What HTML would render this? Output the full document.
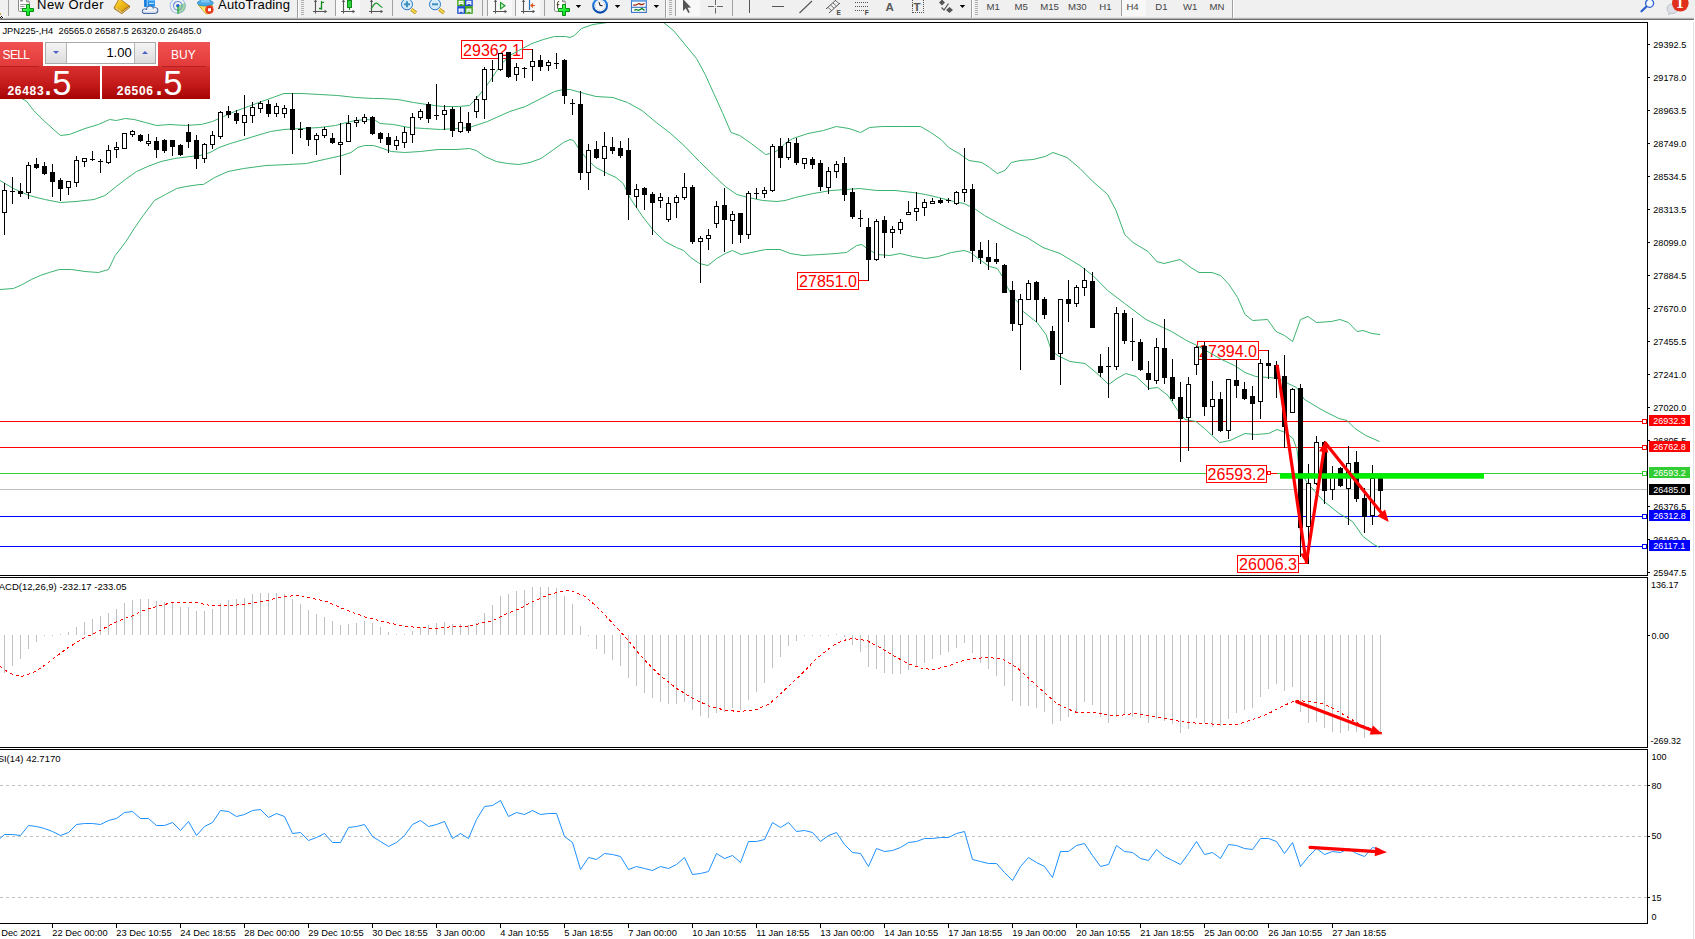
<!DOCTYPE html>
<html><head><meta charset="utf-8"><title>JPN225 H4</title>
<style>
html,body{margin:0;padding:0}
body{width:1695px;height:939px;overflow:hidden;background:#fff;position:relative;font-family:"Liberation Sans",sans-serif}
</style></head><body>
<svg width="1695" height="939" viewBox="0 0 1695 939" style="position:absolute;left:0;top:0">
<g shape-rendering="crispEdges">
<rect x="0" y="421" width="1647" height="1" fill="#f00"/>
<rect x="0" y="447" width="1647" height="1" fill="#f00"/>
<rect x="0" y="473" width="1647" height="1" fill="#32cd32"/>
<rect x="0" y="489" width="1647" height="1" fill="#c0c0c0"/>
<rect x="0" y="516" width="1647" height="1" fill="#00f"/>
<rect x="0" y="546" width="1647" height="1" fill="#00f"/>
</g>
<rect x="461.5" y="40.5" width="61" height="18" fill="#fff" stroke="#f00" stroke-width="1" shape-rendering="crispEdges"/>
<text x="492.0" y="55.6" font-family="Liberation Sans, sans-serif" font-size="16" fill="#f00" text-anchor="middle">29362.1</text>
<path d="M522.5 49.5H532.5" stroke="#f00" fill="none" shape-rendering="crispEdges"/>
<rect x="797.5" y="272.5" width="61" height="17" fill="#fff" stroke="#f00" stroke-width="1" shape-rendering="crispEdges"/>
<text x="828.0" y="286.6" font-family="Liberation Sans, sans-serif" font-size="16" fill="#f00" text-anchor="middle">27851.0</text>
<path d="M858.5 280.5H868.5" stroke="#f00" fill="none" shape-rendering="crispEdges"/>
<rect x="1197.5" y="341.5" width="61" height="18" fill="#fff" stroke="#f00" stroke-width="1" shape-rendering="crispEdges"/>
<text x="1228.0" y="356.6" font-family="Liberation Sans, sans-serif" font-size="16" fill="#f00" text-anchor="middle">27394.0</text>
<path d="M1258.5 350.5H1268.5" stroke="#f00" fill="none" shape-rendering="crispEdges"/>
<rect x="1206.5" y="465.5" width="60" height="17" fill="#fff" stroke="#f00" stroke-width="1" shape-rendering="crispEdges"/>
<text x="1236.5" y="479.6" font-family="Liberation Sans, sans-serif" font-size="16" fill="#f00" text-anchor="middle">26593.2</text>
<rect x="1267.5" y="471.5" width="3" height="3" fill="#fff" stroke="#f00" shape-rendering="crispEdges"/><rect x="1271" y="473" width="6" height="1" fill="#f00" shape-rendering="crispEdges"/>
<rect x="1237.5" y="555.5" width="61" height="17" fill="#fff" stroke="#f00" stroke-width="1" shape-rendering="crispEdges"/>
<text x="1268.0" y="569.6" font-family="Liberation Sans, sans-serif" font-size="16" fill="#f00" text-anchor="middle">26006.3</text>
<path d="M1298.5 563.5H1308.5" stroke="#f00" fill="none" shape-rendering="crispEdges"/>
<polyline points="0.0,80.5 12.0,92.5 26.8,101.5 33.6,110.5 44.7,121.5 60.4,135.5 69.4,134.5 85.0,128.5 98.4,124.5 109.6,119.5 116.3,120.5 125.3,118.5 134.2,119.5 145.4,122.5 156.6,125.5 170.0,124.5 185.7,125.5 200.0,124.5 201.2,124.5 212.4,121.5 223.6,116.5 234.7,111.5 248.2,106.5 261.6,101.5 272.8,97.5 284.0,93.5 301.9,93.5 319.8,94.5 337.6,95.5 355.5,97.5 373.4,98.5 380.0,98.5 397.9,99.5 413.6,102.5 427.0,104.5 442.6,106.5 458.3,106.5 469.5,105.5 476.2,98.5 483.0,90.5 489.6,81.5 496.3,71.5 502.0,63.5 509.8,55.5 518.7,50.5 532.0,43.5 543.3,39.5 554.5,36.5 565.7,36.5 570.0,37.5 574.3,35.5 581.5,28.5 593.0,24.5 600.0,23.5 607.4,22.5 611.0,20.5 660.0,20.5 663.5,22.5 673.5,30.5 685.0,44.5 696.5,58.5 705.2,74.5 713.8,93.5 722.4,112.5 731.0,132.5 739.7,135.5 751.2,143.5 765.6,154.5 774.2,152.5 780.0,148.5 785.0,143.5 792.8,138.5 808.0,133.5 823.5,130.5 836.2,126.5 849.0,128.5 860.5,132.5 869.5,127.5 882.2,126.5 902.7,126.5 920.6,126.5 930.8,132.5 941.0,139.5 948.7,147.5 958.9,153.5 969.0,160.5 981.9,162.5 989.6,167.5 997.3,173.5 1004.9,170.5 1011.3,162.5 1020.0,160.5 1033.0,159.5 1045.0,156.5 1053.0,152.5 1067.0,157.5 1080.0,168.5 1092.8,181.5 1107.7,194.5 1116.0,210.5 1124.7,234.5 1133.0,242.5 1148.0,251.5 1156.7,261.5 1164.0,263.5 1180.0,259.5 1190.8,267.5 1199.0,272.5 1212.0,272.5 1220.6,275.5 1229.0,284.5 1237.6,297.5 1245.0,314.5 1252.6,320.5 1267.5,319.5 1276.0,331.5 1284.5,335.5 1292.6,341.5 1300.5,319.5 1308.0,316.5 1316.5,322.5 1331.4,321.5 1340.0,319.5 1348.4,322.5 1357.0,331.5 1363.0,330.5 1372.0,333.5 1380.0,334.5" fill="none" stroke="#3cb371" stroke-width="1"/>
<polyline points="0.0,180.5 13.4,188.5 29.0,195.5 44.7,199.5 60.4,202.5 76.0,201.5 94.0,199.5 105.0,195.5 116.3,186.5 125.3,179.5 136.5,171.5 147.7,166.5 161.0,161.5 174.5,158.5 190.0,156.5 200.0,155.5 210.0,152.5 219.0,147.5 230.3,143.5 243.7,139.5 257.0,135.5 270.5,131.5 284.0,129.5 301.9,128.5 319.8,127.5 335.4,125.5 346.6,122.5 355.5,120.5 366.7,119.5 375.7,120.5 380.0,123.5 393.4,124.5 409.0,127.5 424.7,128.5 440.4,129.5 456.0,128.5 469.5,127.5 478.4,124.5 487.4,121.5 496.3,117.5 509.8,111.5 525.4,106.5 541.0,98.5 554.5,91.5 563.4,89.5 570.0,89.5 584.4,93.5 596.0,96.5 613.0,97.5 627.5,102.5 642.0,110.5 656.3,122.5 670.7,133.5 685.0,146.5 699.4,161.5 713.8,175.5 725.3,186.5 736.8,194.5 748.3,197.5 762.7,200.5 777.0,201.5 785.0,200.5 795.3,197.5 813.2,193.5 831.1,190.5 846.5,189.5 859.2,188.5 877.1,190.5 895.0,190.5 912.9,192.5 925.7,194.5 938.5,197.5 953.8,201.5 964.0,203.5 974.3,208.5 984.5,215.5 997.3,222.5 1010.0,229.5 1020.0,234.5 1027.0,237.5 1043.0,247.5 1060.0,253.5 1080.0,265.5 1092.8,275.5 1107.7,290.5 1124.7,303.5 1146.0,319.5 1171.6,331.5 1186.5,340.5 1197.0,345.5 1221.6,359.5 1234.4,365.5 1245.0,372.5 1255.7,376.5 1268.5,377.5 1279.0,378.5 1286.0,382.5 1296.5,387.5 1304.5,399.5 1323.0,410.5 1339.0,418.5 1347.0,420.5 1355.0,428.5 1365.8,435.5 1379.6,441.5" fill="none" stroke="#3cb371" stroke-width="1"/>
<polyline points="0.0,289.5 13.4,288.5 22.4,284.5 31.3,279.5 40.3,275.5 49.2,272.5 59.3,269.5 71.6,269.5 85.0,271.5 98.4,272.5 108.5,269.5 115.2,255.5 125.3,242.5 134.2,228.5 143.2,215.5 154.4,200.5 165.5,194.5 176.7,188.5 185.7,186.5 200.0,184.5 203.4,184.5 214.6,177.5 228.0,171.5 243.7,168.5 266.0,165.5 288.4,164.5 306.3,163.5 324.2,159.5 342.0,155.5 351.0,152.5 357.8,147.5 364.5,145.5 373.4,145.5 380.0,147.5 391.2,151.5 404.6,152.5 420.3,151.5 438.2,149.5 456.0,149.5 469.5,148.5 476.2,150.5 485.1,156.5 496.3,161.5 507.5,163.5 518.7,164.5 530.0,162.5 541.0,158.5 552.3,150.5 563.4,142.5 570.0,139.5 573.5,140.5 578.6,148.5 587.3,159.5 595.9,167.5 607.4,173.5 616.0,177.5 623.2,183.5 630.4,198.5 641.9,215.5 653.4,230.5 664.9,241.5 676.4,247.5 683.6,250.5 690.8,257.5 699.4,263.5 708.0,265.5 716.7,258.5 725.3,253.5 732.5,250.5 741.1,254.5 751.2,252.5 765.6,249.5 780.0,249.5 790.2,253.5 803.0,255.5 820.9,254.5 836.2,253.5 846.5,252.5 856.7,245.5 861.8,244.5 866.9,248.5 877.1,254.5 889.9,255.5 900.1,253.5 912.9,256.5 925.7,258.5 938.5,256.5 951.3,252.5 964.0,250.5 970.4,252.5 979.4,259.5 989.6,266.5 997.3,268.5 1002.4,276.5 1007.5,287.5 1012.6,296.5 1020.0,304.5 1022.0,310.5 1037.0,322.5 1046.0,334.5 1051.0,349.5 1057.5,355.5 1070.0,361.5 1085.0,363.5 1096.0,372.5 1108.7,384.5 1117.0,378.5 1125.7,373.5 1136.0,376.5 1149.0,388.5 1157.7,387.5 1168.0,395.5 1177.0,409.5 1185.0,419.5 1196.0,421.5 1204.5,428.5 1219.5,442.5 1230.0,440.5 1245.0,433.5 1255.7,434.5 1268.5,433.5 1277.0,429.5 1285.5,432.5 1293.0,438.5 1297.0,449.5 1299.0,468.5 1307.0,482.5 1315.0,491.5 1323.0,500.5 1339.0,513.5 1352.5,521.5 1363.0,536.5 1373.8,544.5 1379.6,547.5" fill="none" stroke="#3cb371" stroke-width="1"/>
<g shape-rendering="crispEdges">
<path d="M4 183h1v52h-1zM12 177h1v27h-1zM20 183h1v14h-1zM28 162h1v37h-1zM36 158h1v11h-1zM44 162h1v13h-1zM52 164h1v33h-1zM60 178h1v23h-1zM68 181h1v14h-1zM76 156h1v31h-1zM84 158h1v9h-1zM92 151h1v10h-1zM100 159h1v14h-1zM108 145h1v19h-1zM116 142h1v16h-1zM124 133h1v16h-1zM132 130h1v7h-1zM140 134h1v8h-1zM148 134h1v12h-1zM156 137h1v21h-1zM164 139h1v14h-1zM172 140h1v16h-1zM180 144h1v12h-1zM188 124h1v24h-1zM196 135h1v34h-1zM204 143h1v20h-1zM212 131h1v18h-1zM220 111h1v28h-1zM228 106h1v12h-1zM236 110h1v14h-1zM244 95h1v41h-1zM252 102h1v21h-1zM260 101h1v12h-1zM268 100h1v17h-1zM276 103h1v14h-1zM284 105h1v13h-1zM292 93h1v61h-1zM300 122h1v16h-1zM308 127h1v19h-1zM316 133h1v22h-1zM324 127h1v11h-1zM332 133h1v11h-1zM340 123h1v52h-1zM348 115h1v27h-1zM356 117h1v10h-1zM364 114h1v10h-1zM372 116h1v19h-1zM380 132h1v11h-1zM388 133h1v20h-1zM396 136h1v14h-1zM404 127h1v21h-1zM412 113h1v30h-1zM420 109h1v11h-1zM428 102h1v21h-1zM436 84h1v36h-1zM444 105h1v25h-1zM452 107h1v30h-1zM460 107h1v26h-1zM468 112h1v21h-1zM476 96h1v22h-1zM484 67h1v52h-1zM492 60h1v22h-1zM500 53h1v18h-1zM508 52h1v26h-1zM516 63h1v18h-1zM524 67h1v11h-1zM532 49h1v32h-1zM540 55h1v16h-1zM548 60h1v11h-1zM556 53h1v16h-1zM564 59h1v45h-1zM572 99h1v16h-1zM580 91h1v89h-1zM588 144h1v46h-1zM596 141h1v18h-1zM604 132h1v44h-1zM612 137h1v17h-1zM620 141h1v17h-1zM628 138h1v82h-1zM636 184h1v24h-1zM644 187h1v23h-1zM652 192h1v43h-1zM660 193h1v15h-1zM668 197h1v25h-1zM676 195h1v23h-1zM684 173h1v27h-1zM692 185h1v59h-1zM700 236h1v47h-1zM708 229h1v21h-1zM716 201h1v27h-1zM724 188h1v64h-1zM732 211h1v33h-1zM740 213h1v30h-1zM748 191h1v48h-1zM756 188h1v11h-1zM764 187h1v11h-1zM772 144h1v48h-1zM780 138h1v30h-1zM788 138h1v22h-1zM796 138h1v27h-1zM804 158h1v11h-1zM812 157h1v12h-1zM820 160h1v31h-1zM828 167h1v27h-1zM836 161h1v17h-1zM844 157h1v44h-1zM852 188h1v31h-1zM860 210h1v17h-1zM868 218h1v63h-1zM876 219h1v42h-1zM884 216h1v42h-1zM892 226h1v22h-1zM900 219h1v15h-1zM908 201h1v14h-1zM916 192h1v29h-1zM924 199h1v17h-1zM932 198h1v6h-1zM940 198h1v6h-1zM948 198h1v5h-1zM956 191h1v14h-1zM964 148h1v54h-1zM972 184h1v78h-1zM980 242h1v22h-1zM988 240h1v30h-1zM996 243h1v21h-1zM1004 264h1v29h-1zM1012 281h1v50h-1zM1020 294h1v76h-1zM1028 280h1v20h-1zM1036 281h1v41h-1zM1044 297h1v22h-1zM1052 326h1v34h-1zM1060 299h1v86h-1zM1068 280h1v42h-1zM1076 285h1v22h-1zM1084 268h1v28h-1zM1092 272h1v56h-1zM1100 354h1v23h-1zM1108 347h1v51h-1zM1116 307h1v63h-1zM1124 310h1v34h-1zM1132 318h1v43h-1zM1140 339h1v32h-1zM1148 361h1v29h-1zM1156 338h1v46h-1zM1164 319h1v65h-1zM1172 359h1v42h-1zM1180 382h1v80h-1zM1188 377h1v74h-1zM1196 346h1v29h-1zM1204 342h1v74h-1zM1212 381h1v54h-1zM1220 392h1v40h-1zM1228 379h1v60h-1zM1236 360h1v38h-1zM1244 382h1v18h-1zM1252 386h1v54h-1zM1260 359h1v60h-1zM1268 350h1v29h-1zM1276 361h1v37h-1zM1284 355h1v93h-1zM1292 388h1v25h-1zM1300 384h1v173h-1zM1308 464h1v100h-1zM1316 436h1v49h-1zM1324 441h1v63h-1zM1332 466h1v34h-1zM1340 467h1v20h-1zM1348 446h1v79h-1zM1356 451h1v51h-1zM1364 488h1v45h-1zM1372 465h1v60h-1zM1380 476h1v39h-1z" fill="#000"/>
<path d="M10 191h5v1h-5zM18 191h5v3h-5zM34 164h5v4h-5zM42 166h5v8h-5zM50 172h5v10h-5zM58 180h5v9h-5zM90 159h5v1h-5zM98 161h5v1h-5zM138 135h5v6h-5zM154 141h5v9h-5zM162 140h5v11h-5zM170 140h5v7h-5zM178 145h5v10h-5zM186 132h5v10h-5zM194 140h5v19h-5zM226 111h5v4h-5zM234 113h5v8h-5zM266 104h5v10h-5zM290 109h5v21h-5zM298 129h5v1h-5zM306 127h5v13h-5zM330 138h5v5h-5zM370 117h5v17h-5zM378 133h5v6h-5zM386 137h5v8h-5zM426 104h5v15h-5zM434 115h5v1h-5zM450 109h5v22h-5zM466 123h5v8h-5zM490 69h5v1h-5zM506 52h5v25h-5zM522 68h5v1h-5zM538 60h5v7h-5zM554 63h5v1h-5zM562 60h5v36h-5zM570 103h5v1h-5zM578 104h5v69h-5zM594 149h5v9h-5zM610 147h5v4h-5zM618 148h5v8h-5zM626 150h5v45h-5zM642 188h5v7h-5zM650 194h5v9h-5zM690 187h5v55h-5zM722 205h5v15h-5zM738 213h5v22h-5zM754 193h5v1h-5zM778 146h5v12h-5zM794 143h5v20h-5zM810 159h5v6h-5zM818 163h5v24h-5zM842 163h5v32h-5zM850 192h5v25h-5zM858 218h5v1h-5zM866 227h5v33h-5zM882 220h5v13h-5zM938 200h5v3h-5zM946 200h5v1h-5zM970 189h5v62h-5zM978 250h5v8h-5zM986 257h5v5h-5zM994 259h5v3h-5zM1002 265h5v28h-5zM1010 290h5v34h-5zM1034 282h5v18h-5zM1042 299h5v16h-5zM1050 331h5v29h-5zM1066 299h5v5h-5zM1090 281h5v47h-5zM1098 366h5v7h-5zM1106 366h5v1h-5zM1122 313h5v28h-5zM1130 341h5v1h-5zM1138 342h5v28h-5zM1146 373h5v7h-5zM1162 348h5v30h-5zM1170 377h5v22h-5zM1178 397h5v22h-5zM1202 346h5v61h-5zM1218 399h5v32h-5zM1234 380h5v6h-5zM1242 389h5v10h-5zM1250 396h5v8h-5zM1266 363h5v3h-5zM1274 365h5v14h-5zM1282 376h5v51h-5zM1298 388h5v140h-5zM1322 442h5v49h-5zM1338 468h5v18h-5zM1354 462h5v37h-5zM1362 498h5v19h-5zM1378 478h5v13h-5z" fill="#000"/>
<path d="M2.5 190.5h4v22h-4zM26.5 165.5h4v27h-4zM66.5 181.5h4v6h-4zM74.5 160.5h4v22h-4zM82.5 158.5h4v3h-4zM106.5 150.5h4v12h-4zM114.5 147.5h4v2h-4zM122.5 133.5h4v15h-4zM130.5 131.5h4v3h-4zM146.5 141.5h4v2h-4zM202.5 144.5h4v14h-4zM210.5 135.5h4v9h-4zM218.5 112.5h4v24h-4zM242.5 115.5h4v7h-4zM250.5 107.5h4v8h-4zM258.5 103.5h4v5h-4zM274.5 106.5h4v7h-4zM282.5 108.5h4v5h-4zM314.5 135.5h4v4h-4zM322.5 129.5h4v6h-4zM338.5 142.5h4v2h-4zM346.5 123.5h4v18h-4zM354.5 120.5h4v2h-4zM362.5 117.5h4v4h-4zM394.5 140.5h4v5h-4zM402.5 132.5h4v10h-4zM410.5 117.5h4v17h-4zM418.5 111.5h4v6h-4zM442.5 110.5h4v4h-4zM458.5 122.5h4v9h-4zM474.5 99.5h4v12h-4zM482.5 69.5h4v30h-4zM498.5 53.5h4v16h-4zM514.5 67.5h4v7h-4zM530.5 61.5h4v5h-4zM546.5 62.5h4v3h-4zM586.5 150.5h4v22h-4zM602.5 146.5h4v12h-4zM634.5 189.5h4v7h-4zM658.5 197.5h4v3h-4zM666.5 203.5h4v16h-4zM674.5 197.5h4v5h-4zM682.5 187.5h4v10h-4zM698.5 238.5h4v3h-4zM706.5 235.5h4v3h-4zM714.5 206.5h4v17h-4zM730.5 214.5h4v6h-4zM746.5 193.5h4v41h-4zM762.5 190.5h4v3h-4zM770.5 146.5h4v44h-4zM786.5 142.5h4v15h-4zM802.5 158.5h4v5h-4zM826.5 171.5h4v16h-4zM834.5 164.5h4v7h-4zM874.5 221.5h4v38h-4zM890.5 229.5h4v3h-4zM898.5 222.5h4v7h-4zM906.5 212.5h4v2h-4zM914.5 208.5h4v3h-4zM922.5 202.5h4v5h-4zM930.5 201.5h4v2h-4zM954.5 192.5h4v11h-4zM962.5 189.5h4v3h-4zM1018.5 299.5h4v25h-4zM1026.5 283.5h4v16h-4zM1058.5 299.5h4v54h-4zM1074.5 287.5h4v16h-4zM1082.5 280.5h4v7h-4zM1114.5 313.5h4v53h-4zM1154.5 347.5h4v33h-4zM1186.5 384.5h4v33h-4zM1194.5 347.5h4v17h-4zM1210.5 399.5h4v7h-4zM1226.5 379.5h4v51h-4zM1258.5 363.5h4v38h-4zM1290.5 389.5h4v23h-4zM1306.5 483.5h4v43h-4zM1314.5 442.5h4v41h-4zM1330.5 475.5h4v14h-4zM1346.5 463.5h4v25h-4zM1370.5 478.5h4v37h-4z" fill="#fff" stroke="#000" stroke-width="1"/>
</g>
<rect x="1280" y="473.3" width="204" height="5.4" fill="#00ee00"/>
<line x1="1277.3" y1="366.0" x2="1305.1" y2="555.1" stroke="#f00" stroke-width="3.2" stroke-linecap="round"/><polygon points="1306.4,564.0 1300.3,553.8 1309.3,552.5" fill="#f00"/>
<line x1="1306.4" y1="562.0" x2="1324.0" y2="450.1" stroke="#f00" stroke-width="3.2" stroke-linecap="round"/><polygon points="1325.4,441.2 1328.4,452.8 1319.0,451.3" fill="#f00"/>
<line x1="1325.4" y1="443.0" x2="1382.5" y2="514.3" stroke="#f00" stroke-width="3.2" stroke-linecap="round"/><polygon points="1388.7,522.1 1377.3,515.9 1385.1,509.6" fill="#f00"/>
<g shape-rendering="crispEdges">
<path d="M4 635h1v38h-1zM12 635h1v31h-1zM20 635h1v24h-1zM28 635h1v14h-1zM36 635h1v7h-1zM44 635h1v1h-1zM52 635h1v1h-1zM60 634h1v1h-1zM68 632h1v3h-1zM76 627h1v8h-1zM84 622h1v13h-1zM92 619h1v16h-1zM100 616h1v19h-1zM108 613h1v22h-1zM116 609h1v26h-1zM124 603h1v32h-1zM132 600h1v35h-1zM140 599h1v36h-1zM148 599h1v36h-1zM156 601h1v34h-1zM164 602h1v33h-1zM172 603h1v32h-1zM180 607h1v28h-1zM188 607h1v28h-1zM196 611h1v24h-1zM204 611h1v24h-1zM212 609h1v26h-1zM220 603h1v32h-1zM228 600h1v35h-1zM236 599h1v36h-1zM244 598h1v37h-1zM252 594h1v41h-1zM260 593h1v42h-1zM268 593h1v42h-1zM276 593h1v42h-1zM284 594h1v41h-1zM292 599h1v36h-1zM300 604h1v31h-1zM308 610h1v25h-1zM316 614h1v21h-1zM324 617h1v18h-1zM332 621h1v14h-1zM340 625h1v10h-1zM348 624h1v11h-1zM356 623h1v12h-1zM364 621h1v14h-1zM372 623h1v12h-1zM380 627h1v8h-1zM388 632h1v3h-1zM396 634h1v1h-1zM404 634h1v1h-1zM412 631h1v4h-1zM420 627h1v8h-1zM428 625h1v10h-1zM436 623h1v12h-1zM444 622h1v13h-1zM452 624h1v11h-1zM460 624h1v11h-1zM468 625h1v10h-1zM476 623h1v12h-1zM484 613h1v22h-1zM492 605h1v30h-1zM500 596h1v39h-1zM508 594h1v41h-1zM516 591h1v44h-1zM524 590h1v45h-1zM532 587h1v48h-1zM540 587h1v48h-1zM548 587h1v48h-1zM556 588h1v47h-1zM564 596h1v39h-1zM572 604h1v31h-1zM580 626h1v9h-1zM588 635h1v1h-1zM596 635h1v14h-1zM604 635h1v19h-1zM612 635h1v25h-1zM620 635h1v31h-1zM628 635h1v43h-1zM636 635h1v51h-1zM644 635h1v58h-1zM652 635h1v63h-1zM660 635h1v67h-1zM668 635h1v69h-1zM676 635h1v69h-1zM684 635h1v67h-1zM692 635h1v75h-1zM700 635h1v81h-1zM708 635h1v83h-1zM716 635h1v78h-1zM724 635h1v77h-1zM732 635h1v73h-1zM740 635h1v75h-1zM748 635h1v65h-1zM756 635h1v57h-1zM764 635h1v48h-1zM772 635h1v33h-1zM780 635h1v22h-1zM788 635h1v11h-1zM796 635h1v6h-1zM804 635h1v1h-1zM812 635h1v1h-1zM820 635h1v1h-1zM828 635h1v1h-1zM836 634h1v1h-1zM844 635h1v2h-1zM852 635h1v10h-1zM860 635h1v17h-1zM868 635h1v32h-1zM876 635h1v34h-1zM884 635h1v38h-1zM892 635h1v39h-1zM900 635h1v39h-1zM908 635h1v35h-1zM916 635h1v32h-1zM924 635h1v28h-1zM932 635h1v24h-1zM940 635h1v20h-1zM948 635h1v17h-1zM956 635h1v13h-1zM964 635h1v8h-1zM972 635h1v18h-1zM980 635h1v28h-1zM988 635h1v34h-1zM996 635h1v41h-1zM1004 635h1v51h-1zM1012 635h1v66h-1zM1020 635h1v71h-1zM1028 635h1v71h-1zM1036 635h1v73h-1zM1044 635h1v77h-1zM1052 635h1v89h-1zM1060 635h1v86h-1zM1068 635h1v82h-1zM1076 635h1v77h-1zM1084 635h1v67h-1zM1092 635h1v70h-1zM1100 635h1v82h-1zM1108 635h1v88h-1zM1116 635h1v82h-1zM1124 635h1v79h-1zM1132 635h1v82h-1zM1140 635h1v83h-1zM1148 635h1v88h-1zM1156 635h1v84h-1zM1164 635h1v86h-1zM1172 635h1v89h-1zM1180 635h1v98h-1zM1188 635h1v94h-1zM1196 635h1v83h-1zM1204 635h1v88h-1zM1212 635h1v92h-1zM1220 635h1v91h-1zM1228 635h1v84h-1zM1236 635h1v78h-1zM1244 635h1v75h-1zM1252 635h1v73h-1zM1260 635h1v62h-1zM1268 635h1v54h-1zM1276 635h1v49h-1zM1284 635h1v56h-1zM1292 635h1v52h-1zM1300 635h1v77h-1zM1308 635h1v88h-1zM1316 635h1v87h-1zM1324 635h1v93h-1zM1332 635h1v97h-1zM1340 635h1v98h-1zM1348 635h1v96h-1zM1356 635h1v97h-1zM1364 635h1v103h-1zM1372 635h1v100h-1zM1380 635h1v98h-1z" fill="#c0c0c0"/>
</g>
<polyline points="0.0,666.5 10.0,673.5 21.7,676.5 33.0,672.5 43.0,666.5 55.0,657.5 66.7,648.5 83.0,638.5 100.0,630.5 116.7,621.5 133.0,615.5 143.0,610.5 160.0,605.5 173.0,602.5 196.7,602.5 210.0,605.5 233.0,605.5 250.0,603.5 266.7,600.5 283.0,596.5 300.0,595.5 313.0,598.5 326.7,601.5 340.0,607.5 353.0,612.5 366.7,617.5 383.0,621.5 400.0,625.5 416.7,627.5 436.7,628.5 453.0,626.5 466.7,626.5 480.0,623.5 493.0,620.5 506.7,613.5 520.0,608.5 533.0,601.5 546.7,595.5 556.7,592.5 565.0,590.5 573.0,591.5 585.0,596.5 596.7,606.5 610.0,620.5 626.7,638.5 643.0,658.5 660.0,675.5 676.7,688.5 693.0,698.5 710.0,706.5 726.7,710.5 740.0,711.5 756.7,709.5 770.0,703.5 783.0,691.5 800.0,675.5 816.7,658.5 833.0,645.5 843.0,640.5 853.0,638.5 866.7,640.5 880.0,647.5 893.0,655.5 910.0,664.5 923.0,668.5 933.0,669.5 946.7,666.5 960.0,661.5 973.0,658.5 990.0,657.5 1003.0,659.5 1016.7,667.5 1030.0,679.5 1043.0,691.5 1056.7,703.5 1066.7,708.5 1076.7,712.5 1093.0,712.5 1110.0,715.5 1120.0,715.5 1133.0,713.5 1143.0,714.5 1153.0,716.5 1170.0,719.5 1186.7,722.5 1203.0,723.5 1220.0,724.5 1236.7,724.5 1253.0,719.5 1266.7,714.5 1280.0,707.5 1295.0,700.5 1310.0,701.5 1323.0,703.5 1333.0,708.5 1346.7,716.5 1360.0,724.5 1373.0,729.5 1381.7,732.5" fill="none" stroke="#f00" stroke-width="1" stroke-dasharray="3 3" shape-rendering="crispEdges"/>
<line x1="1296.7" y1="701.7" x2="1373.2" y2="730.7" stroke="#f00" stroke-width="3.3" stroke-linecap="round"/><polygon points="1382.5,734.3 1369.6,734.5 1373.0,725.6" fill="#f00"/>
<g shape-rendering="crispEdges">
<path d="M0 785.5H1647" stroke="#c0c0c0" stroke-dasharray="3 3" fill="none"/>
<path d="M0 836.5H1647" stroke="#c0c0c0" stroke-dasharray="3 3" fill="none"/>
<path d="M0 897.5H1647" stroke="#c0c0c0" stroke-dasharray="3 3" fill="none"/>
</g>
<polyline points="0.0,838.5 4.5,834.5 12.5,834.5 20.5,835.5 28.5,825.5 36.5,826.5 44.5,828.5 52.5,831.5 60.5,835.5 68.5,832.5 76.5,824.5 84.5,823.5 92.5,823.5 100.5,824.5 108.5,820.5 116.5,818.5 124.5,812.5 132.5,811.5 140.5,818.5 148.5,818.5 156.5,825.5 164.5,825.5 172.5,822.5 180.5,830.5 188.5,821.5 196.5,835.5 204.5,826.5 212.5,822.5 220.5,810.5 228.5,811.5 236.5,816.5 244.5,814.5 252.5,810.5 260.5,809.5 268.5,817.5 276.5,813.5 284.5,816.5 292.5,833.5 300.5,832.5 308.5,840.5 316.5,837.5 324.5,833.5 332.5,842.5 340.5,842.5 348.5,827.5 356.5,826.5 364.5,824.5 372.5,836.5 380.5,841.5 388.5,846.5 396.5,842.5 404.5,835.5 412.5,824.5 420.5,820.5 428.5,826.5 436.5,824.5 444.5,821.5 452.5,838.5 460.5,833.5 468.5,838.5 476.5,819.5 484.5,806.5 492.5,805.5 500.5,800.5 508.5,816.5 516.5,812.5 524.5,814.5 532.5,810.5 540.5,814.5 548.5,813.5 556.5,813.5 564.5,836.5 572.5,842.5 580.5,869.5 588.5,857.5 596.5,859.5 604.5,853.5 612.5,854.5 620.5,856.5 628.5,869.5 636.5,866.5 644.5,868.5 652.5,870.5 660.5,866.5 668.5,868.5 676.5,864.5 684.5,857.5 692.5,874.5 700.5,873.5 708.5,871.5 716.5,853.5 724.5,858.5 732.5,855.5 740.5,862.5 748.5,841.5 756.5,841.5 764.5,839.5 772.5,822.5 780.5,827.5 788.5,822.5 796.5,831.5 804.5,830.5 812.5,832.5 820.5,841.5 828.5,835.5 836.5,832.5 844.5,844.5 852.5,852.5 860.5,853.5 868.5,866.5 876.5,848.5 884.5,851.5 892.5,850.5 900.5,847.5 908.5,842.5 916.5,841.5 924.5,838.5 932.5,838.5 940.5,837.5 948.5,837.5 956.5,833.5 964.5,831.5 972.5,859.5 980.5,861.5 988.5,863.5 996.5,863.5 1004.5,872.5 1012.5,880.5 1020.5,866.5 1028.5,857.5 1036.5,862.5 1044.5,866.5 1052.5,877.5 1060.5,851.5 1068.5,851.5 1076.5,845.5 1084.5,843.5 1092.5,855.5 1100.5,866.5 1108.5,864.5 1116.5,845.5 1124.5,851.5 1132.5,852.5 1140.5,858.5 1148.5,860.5 1156.5,849.5 1164.5,856.5 1172.5,860.5 1180.5,864.5 1188.5,853.5 1196.5,841.5 1204.5,854.5 1212.5,852.5 1220.5,858.5 1228.5,844.5 1236.5,845.5 1244.5,848.5 1252.5,849.5 1260.5,838.5 1268.5,838.5 1276.5,841.5 1284.5,853.5 1292.5,842.5 1300.5,866.5 1308.5,856.5 1316.5,848.5 1324.5,854.5 1332.5,851.5 1340.5,852.5 1348.5,848.5 1356.5,853.5 1364.5,856.5 1372.5,847.5 1380.5,849.5" fill="none" stroke="#1e90ff" stroke-width="1"/>
<line x1="1310.0" y1="847.3" x2="1377.0" y2="851.7" stroke="#f00" stroke-width="3.3" stroke-linecap="round"/><polygon points="1387.0,852.3 1374.7,856.3 1375.3,846.8" fill="#f00"/>
<g shape-rendering="crispEdges" fill="#000">
<rect x="0" y="22" width="1648" height="1"/>
<rect x="1647" y="22" width="1" height="554"/>
<rect x="0" y="575" width="1648" height="1"/>
<rect x="0" y="577" width="1648" height="1"/>
<rect x="1647" y="577" width="1" height="171"/>
<rect x="0" y="747" width="1648" height="1"/>
<rect x="0" y="749" width="1648" height="1"/>
<rect x="1647" y="749" width="1" height="175"/>
<rect x="0" y="923" width="1648" height="1"/>
<rect x="1648" y="44" width="2" height="1"/>
<rect x="1648" y="77" width="2" height="1"/>
<rect x="1648" y="110" width="2" height="1"/>
<rect x="1648" y="143" width="2" height="1"/>
<rect x="1648" y="176" width="2" height="1"/>
<rect x="1648" y="209" width="2" height="1"/>
<rect x="1648" y="242" width="2" height="1"/>
<rect x="1648" y="275" width="2" height="1"/>
<rect x="1648" y="308" width="2" height="1"/>
<rect x="1648" y="341" width="2" height="1"/>
<rect x="1648" y="374" width="2" height="1"/>
<rect x="1648" y="407" width="2" height="1"/>
<rect x="1648" y="440" width="2" height="1"/>
<rect x="1648" y="506" width="2" height="1"/>
<rect x="1648" y="539" width="2" height="1"/>
<rect x="1648" y="572" width="2" height="1"/>
<rect x="1648" y="635" width="2" height="1"/>
<rect x="1648" y="785" width="2" height="1"/>
<rect x="1648" y="836" width="2" height="1"/>
<rect x="1648" y="897" width="2" height="1"/>
<rect x="52" y="924" width="1" height="4"/>
<rect x="116" y="924" width="1" height="4"/>
<rect x="180" y="924" width="1" height="4"/>
<rect x="244" y="924" width="1" height="4"/>
<rect x="308" y="924" width="1" height="4"/>
<rect x="372" y="924" width="1" height="4"/>
<rect x="436" y="924" width="1" height="4"/>
<rect x="500" y="924" width="1" height="4"/>
<rect x="564" y="924" width="1" height="4"/>
<rect x="628" y="924" width="1" height="4"/>
<rect x="692" y="924" width="1" height="4"/>
<rect x="756" y="924" width="1" height="4"/>
<rect x="820" y="924" width="1" height="4"/>
<rect x="884" y="924" width="1" height="4"/>
<rect x="948" y="924" width="1" height="4"/>
<rect x="1012" y="924" width="1" height="4"/>
<rect x="1076" y="924" width="1" height="4"/>
<rect x="1140" y="924" width="1" height="4"/>
<rect x="1204" y="924" width="1" height="4"/>
<rect x="1268" y="924" width="1" height="4"/>
<rect x="1332" y="924" width="1" height="4"/>
</g>
<g font-family="Liberation Sans, sans-serif" font-size="9" fill="#000">
<text x="1653.3" y="47.6" font-size="9.15">29392.5</text>
<text x="1653.3" y="80.6" font-size="9.15">29178.0</text>
<text x="1653.3" y="113.6" font-size="9.15">28963.5</text>
<text x="1653.3" y="146.6" font-size="9.15">28749.0</text>
<text x="1653.3" y="179.6" font-size="9.15">28534.5</text>
<text x="1653.3" y="212.6" font-size="9.15">28313.5</text>
<text x="1653.3" y="245.6" font-size="9.15">28099.0</text>
<text x="1653.3" y="278.6" font-size="9.15">27884.5</text>
<text x="1653.3" y="311.6" font-size="9.15">27670.0</text>
<text x="1653.3" y="344.6" font-size="9.15">27455.5</text>
<text x="1653.3" y="377.6" font-size="9.15">27241.0</text>
<text x="1653.3" y="410.6" font-size="9.15">27020.0</text>
<text x="1653.3" y="443.6" font-size="9.15">26805.5</text>
<text x="1653.3" y="509.6" font-size="9.15">26376.5</text>
<text x="1653.3" y="542.6" font-size="9.15">26162.0</text>
<text x="1653.3" y="575.6" font-size="9.15">25947.5</text>
<text x="1651" y="587.9">136.17</text><text x="1651.5" y="639">0.00</text><text x="1650.5" y="744">-269.32</text>
<text x="1651.5" y="760">100</text><text x="1651.5" y="788.6">80</text><text x="1651.5" y="839.4">50</text><text x="1651.5" y="900.8">15</text><text x="1651.5" y="920">0</text>
<text x="-11.7" y="936" font-size="9.3">21 Dec 2021</text>
<text x="52.3" y="936" font-size="9.3">22 Dec 00:00</text>
<text x="116.3" y="936" font-size="9.3">23 Dec 10:55</text>
<text x="180.3" y="936" font-size="9.3">24 Dec 18:55</text>
<text x="244.3" y="936" font-size="9.3">28 Dec 00:00</text>
<text x="308.3" y="936" font-size="9.3">29 Dec 10:55</text>
<text x="372.3" y="936" font-size="9.3">30 Dec 18:55</text>
<text x="436.3" y="936" font-size="9.3">3 Jan 00:00</text>
<text x="500.3" y="936" font-size="9.3">4 Jan 10:55</text>
<text x="564.3" y="936" font-size="9.3">5 Jan 18:55</text>
<text x="628.3" y="936" font-size="9.3">7 Jan 00:00</text>
<text x="692.3" y="936" font-size="9.3">10 Jan 10:55</text>
<text x="756.3" y="936" font-size="9.3">11 Jan 18:55</text>
<text x="820.3" y="936" font-size="9.3">13 Jan 00:00</text>
<text x="884.3" y="936" font-size="9.3">14 Jan 10:55</text>
<text x="948.3" y="936" font-size="9.3">17 Jan 18:55</text>
<text x="1012.3" y="936" font-size="9.3">19 Jan 00:00</text>
<text x="1076.3" y="936" font-size="9.3">20 Jan 10:55</text>
<text x="1140.3" y="936" font-size="9.3">21 Jan 18:55</text>
<text x="1204.3" y="936" font-size="9.3">25 Jan 00:00</text>
<text x="1268.3" y="936" font-size="9.3">26 Jan 10:55</text>
<text x="1332.3" y="936" font-size="9.3">27 Jan 18:55</text>
<text x="2.4" y="34" font-size="9.35">JPN225-,H4&#160;&#160;26565.0 26587.5 26320.0 26485.0</text>
<text x="126.5" y="590" font-size="9.5" text-anchor="end">MACD(12,26,9) -232.17 -233.05</text>
<text x="60.5" y="762" font-size="9.5" text-anchor="end">RSI(14) 42.7170</text>
</g>
<g shape-rendering="crispEdges">
<rect x="1649" y="415" width="41" height="11" fill="#f00"/>
<rect x="1642.5" y="419.5" width="4" height="4" fill="#fff" stroke="#f00"/>
<rect x="1649" y="441" width="41" height="11" fill="#f00"/>
<rect x="1642.5" y="445.5" width="4" height="4" fill="#fff" stroke="#f00"/>
<rect x="1649" y="467" width="41" height="11" fill="#32cd32"/>
<rect x="1642.5" y="471.5" width="4" height="4" fill="#fff" stroke="#32cd32"/>
<rect x="1649" y="484" width="41" height="11" fill="#000"/>
<rect x="1649" y="510" width="41" height="11" fill="#00f"/>
<rect x="1642.5" y="514.5" width="4" height="4" fill="#fff" stroke="#00f"/>
<rect x="1649" y="540" width="41" height="11" fill="#00f"/>
<rect x="1642.5" y="544.5" width="4" height="4" fill="#fff" stroke="#00f"/>
</g>
<g font-family="Liberation Sans, sans-serif" font-size="9" fill="#fff">
<text x="1653.2" y="423.9" font-size="9.05">26932.3</text>
<text x="1653.2" y="449.9" font-size="9.05">26762.8</text>
<text x="1653.2" y="475.9" font-size="9.05">26593.2</text>
<text x="1653.2" y="492.6" font-size="9.05">26485.0</text>
<text x="1653.2" y="518.9" font-size="9.05">26312.8</text>
<text x="1653.2" y="548.9" font-size="9.05">26117.1</text>
</g>
<rect x="1693" y="20" width="1" height="919" fill="#e3e3e3" shape-rendering="crispEdges"/>
</svg>
<svg width="1695" height="23" viewBox="0 0 1695 23" style="position:absolute;left:0;top:0">
<rect x="0" y="0" width="1695" height="18" fill="#f0f0f0"/>
<g shape-rendering="crispEdges"><rect x="0" y="17" width="1694" height="1" fill="#e4e4e4"/><rect x="0" y="18" width="1694" height="1" fill="#b4b4b4"/><rect x="0" y="19" width="1694" height="1" fill="#6e6e6e"/><rect x="0" y="20" width="1695" height="2" fill="#fff"/></g>
<rect x="336" y="0" width="24" height="16" fill="#f8f8f8"/>
<rect x="488" y="0" width="24" height="16" fill="#f8f8f8"/>
<rect x="516" y="0" width="24" height="16" fill="#f8f8f8"/>
<rect x="676" y="0" width="24" height="16" fill="#f8f8f8"/>
<rect x="1122" y="0" width="24" height="16" fill="#f8f8f8"/>
<g shape-rendering="crispEdges" fill="#a0a0a0">
<rect x="8" y="0" width="1" height="16"/>
<rect x="335" y="0" width="1" height="16"/>
<rect x="392" y="0" width="1" height="16"/>
<rect x="482" y="0" width="1" height="16"/>
<rect x="487" y="0" width="1" height="16"/>
<rect x="515" y="0" width="1" height="16"/>
<rect x="544" y="0" width="1" height="16"/>
<rect x="675" y="0" width="1" height="16"/>
<rect x="732" y="0" width="1" height="16"/>
<rect x="1121" y="0" width="1" height="16"/>
<rect x="297" y="0" width="1" height="18"/><rect x="298" y="0" width="1" height="18" fill="#fff"/>
<rect x="665" y="0" width="1" height="18"/><rect x="666" y="0" width="1" height="18" fill="#fff"/>
<rect x="971" y="0" width="1" height="18"/><rect x="972" y="0" width="1" height="18" fill="#fff"/>
<rect x="1232" y="0" width="1" height="18"/><rect x="1233" y="0" width="1" height="18" fill="#fff"/>
<rect x="301" y="0" width="3" height="1" fill="#b0b0b0"/>
<rect x="301" y="2" width="3" height="1" fill="#b0b0b0"/>
<rect x="301" y="4" width="3" height="1" fill="#b0b0b0"/>
<rect x="301" y="6" width="3" height="1" fill="#b0b0b0"/>
<rect x="301" y="8" width="3" height="1" fill="#b0b0b0"/>
<rect x="301" y="10" width="3" height="1" fill="#b0b0b0"/>
<rect x="301" y="12" width="3" height="1" fill="#b0b0b0"/>
<rect x="301" y="14" width="3" height="1" fill="#b0b0b0"/>
<rect x="669" y="0" width="3" height="1" fill="#b0b0b0"/>
<rect x="669" y="2" width="3" height="1" fill="#b0b0b0"/>
<rect x="669" y="4" width="3" height="1" fill="#b0b0b0"/>
<rect x="669" y="6" width="3" height="1" fill="#b0b0b0"/>
<rect x="669" y="8" width="3" height="1" fill="#b0b0b0"/>
<rect x="669" y="10" width="3" height="1" fill="#b0b0b0"/>
<rect x="669" y="12" width="3" height="1" fill="#b0b0b0"/>
<rect x="669" y="14" width="3" height="1" fill="#b0b0b0"/>
<rect x="975" y="0" width="3" height="1" fill="#b0b0b0"/>
<rect x="975" y="2" width="3" height="1" fill="#b0b0b0"/>
<rect x="975" y="4" width="3" height="1" fill="#b0b0b0"/>
<rect x="975" y="6" width="3" height="1" fill="#b0b0b0"/>
<rect x="975" y="8" width="3" height="1" fill="#b0b0b0"/>
<rect x="975" y="10" width="3" height="1" fill="#b0b0b0"/>
<rect x="975" y="12" width="3" height="1" fill="#b0b0b0"/>
<rect x="975" y="14" width="3" height="1" fill="#b0b0b0"/>
</g>
<g shape-rendering="crispEdges"><rect x="0" y="13" width="1" height="2" fill="#d2a648"/><rect x="0" y="16" width="4" height="2" fill="#fff"/><rect x="1" y="16" width="1" height="1" fill="#000"/><rect x="0" y="17" width="1" height="1" fill="#000"/><rect x="2" y="17" width="1" height="1" fill="#000"/><rect x="1" y="18" width="1" height="1" fill="#555"/></g>
<path d="M18.5 -1V10.300Q18.5 11.300 19.5 11.300H29.4V2.200L26.6 -1Z" fill="#fff" stroke="#7e7e7e" stroke-width=".9"/><path d="M26.5 -1V1.800H29.4" fill="none" stroke="#7e7e7e" stroke-width=".9"/>
<rect x="20.2" y="-1" width="2.700" height="2.500" fill="#8a8a8a"/><path d="M20.2 4.500H26 M20.2 6.500H24.5 M20.2 8.500H23" stroke="#8a8a8a" stroke-width=".9" fill="none"/>
<defs><linearGradient id="gp" x1="0" y1="0" x2="1" y2="1"><stop offset="0" stop-color="#7dff8a"/><stop offset=".55" stop-color="#18ee30"/><stop offset="1" stop-color="#08c018"/></linearGradient></defs>
<path d="M26.5 4.500H29.5V8.500H33.5V11.500H29.5V15.500H26.5V11.500H22.5V8.500H26.5Z" fill="url(#gp)" stroke="#0a8c12" stroke-width="1"/>
<text x="37.1" y="9" font-family="Liberation Sans, sans-serif" font-size="13" letter-spacing="0.45" fill="#000">New Order</text>
<defs><linearGradient id="gb" x1="0" y1="0" x2=".8" y2="1"><stop offset="0" stop-color="#fbe070"/><stop offset=".45" stop-color="#f2c21c"/><stop offset="1" stop-color="#d89a10"/></linearGradient><linearGradient id="gc" x1="0" y1="0" x2="0" y2="1"><stop offset="0" stop-color="#ffffff"/><stop offset="1" stop-color="#c4d0e6"/></linearGradient></defs>
<path d="M114.300 8.800L121.900 13.700L129.600 7.400V5.800L121.600 11.600L114.300 7.200Z" fill="#e8c860" stroke="#9a6210" stroke-width=".8"/>
<path d="M114.300 7.200L119.200 -1.500L129.100 5.800L121.600 11.600Z" fill="url(#gb)" stroke="#a66a12" stroke-width=".8"/>
<path d="M115.300 7.700L121.700 12" stroke="#f6dc88" stroke-width="1"/>
<rect x="144.300" y="-1" width="10.600" height="7.800" fill="#1f8ff0"/><rect x="144.300" y="-1" width="2.600" height="7.800" fill="#1478dc"/><path d="M147.200 -1V6.500" stroke="#e8f4ff" stroke-width=".7"/><path d="M149 3.300H153.800" stroke="#e8f4ff" stroke-width="1"/><rect x="148.500" y="-1" width="6" height="2.200" fill="#6cc0ff"/>
<g fill="#3c5c9c"><circle cx="144.700" cy="11.200" r="2.800"/><circle cx="150" cy="9.600" r="3.900"/><circle cx="155" cy="10.500" r="3.300"/><rect x="144.700" y="11" width="10.300" height="3" /></g>
<g fill="url(#gc)"><circle cx="144.700" cy="11.200" r="1.900"/><circle cx="150" cy="9.600" r="3"/><circle cx="155" cy="10.500" r="2.400"/><rect x="144.700" y="10" width="10.300" height="3.100"/></g>
<g fill="none"><circle cx="177.800" cy="5.800" r="7.600" stroke="#a9c2ee" stroke-width="1.100"/><circle cx="177.800" cy="5.800" r="4.300" stroke="#6a90de" stroke-width="1.100"/></g><path d="M177.800 5.800V13.600A7.800 7.800 0 0 0 185.600 5.800A7.800 7.800 0 0 0 185 3Z" fill="#58b860" opacity=".5"/><circle cx="177.800" cy="5.800" r="1.700" fill="#2a5ed0"/><path d="M178 6.500V13.800" stroke="#1fa82e" stroke-width="1.200"/>
<defs><linearGradient id="gy" x1="0" y1="0" x2="1" y2="1"><stop offset="0" stop-color="#f2c830"/><stop offset=".5" stop-color="#fff27a"/><stop offset="1" stop-color="#f0c020"/></linearGradient></defs>
<path d="M198.300 5L206 13.800L209 13.500L212.800 5.500Z" fill="url(#gy)" stroke="#c89a1c" stroke-width=".8"/><ellipse cx="205.300" cy="3" rx="8" ry="3.100" fill="#4aa8e6" stroke="#2a86b8" stroke-width=".7"/><path d="M200.800 2.500C201 -0.500 202.500 -2 205 -2C208 -2 209.500 -0.500 209.800 2.500Z" fill="#7cc8f4"/><circle cx="209.400" cy="9.700" r="4.100" fill="#e02a10"/><circle cx="209.400" cy="9.700" r="3.500" fill="none" stroke="#f25030" stroke-width=".8"/><rect x="207.900" y="8.200" width="3.100" height="3.100" fill="#fff"/>
<text x="218.1" y="9" font-family="Liberation Sans, sans-serif" font-size="13" letter-spacing="0.15" fill="#000">AutoTrading</text>
<path d="M315.5 1V13.500 M313 11.500H325.5" stroke="#555" stroke-width="1.100" fill="none"/><path d="M324.6 9.700L327.2 11.500L324.6 13.300Z M313.9 1.900L315.5 -0.600L317.1 1.900Z" fill="#555"/>
<path d="M319 8.500H321.500 M321.500 1.200V9.700 M321.500 2.300H324" stroke="#0f8c1c" stroke-width="1.300" fill="none"/>
<path d="M343.5 1V13.500 M341 11.500H353.5" stroke="#555" stroke-width="1.100" fill="none"/><path d="M352.6 9.700L355.2 11.500L352.6 13.300Z M341.9 1.900L343.5 -0.600L345.1 1.900Z" fill="#555"/>
<rect x="347.500" y="0.500" width="4" height="7" fill="#2fd23a" stroke="#128a1e"/><path d="M349.500 7.500V10" stroke="#128a1e"/>
<path d="M371.5 1V13.500 M369 11.500H381.5" stroke="#555" stroke-width="1.100" fill="none"/><path d="M380.6 9.700L383.2 11.500L380.6 13.300Z M369.9 1.900L371.5 -0.600L373.1 1.900Z" fill="#555"/>
<path d="M371 9C374 4 376 2 377.500 3.500C379 5 380.500 7 382.500 7.500" stroke="#1a9a2a" stroke-width="1.200" fill="none"/>
<path d="M411.3 9.300L416 12.900" stroke="#b8860b" stroke-width="3.400"/><path d="M411.3 9.300L415.7 12.700" stroke="#f2dc50" stroke-width="2"/><circle cx="407" cy="4.300" r="5.500" fill="#d6ecf9" stroke="#2a78c8" stroke-width="1"/>
<path d="M404 4.300H410" stroke="#3f8fbf" stroke-width="2"/>
<path d="M407 1.300V7.300" stroke="#3f8fbf" stroke-width="2"/>
<path d="M439.3 9.300L444 12.900" stroke="#b8860b" stroke-width="3.400"/><path d="M439.3 9.300L443.7 12.700" stroke="#f2dc50" stroke-width="2"/><circle cx="435" cy="4.300" r="5.500" fill="#d6ecf9" stroke="#2a78c8" stroke-width="1"/>
<path d="M432 4.300H438" stroke="#3f8fbf" stroke-width="2"/>
<rect x="457.2" y="-1" width="7.800" height="7.1" fill="#3f9f1c"/><path d="M458.59999999999997 5.1V0.7999999999999998H463.59999999999997V5.1H462.59999999999997V4.1H459.59999999999997V5.1Z" fill="#fff"/><rect x="459.59999999999997" y="1.8999999999999995" width="3" height=".9" fill="#a8d890"/>
<rect x="465" y="-1" width="7.800" height="7.1" fill="#1f4fd0"/><path d="M466.4 5.1V0.7999999999999998H471.4V5.1H470.4V4.1H467.4V5.1Z" fill="#fff"/><rect x="467.4" y="1.8999999999999995" width="3" height=".9" fill="#9ab4f0"/>
<rect x="457.2" y="6.1" width="7.800" height="7.7" fill="#1f4fd0"/><path d="M458.59999999999997 12.8V8.5H463.59999999999997V12.8H462.59999999999997V11.8H459.59999999999997V12.8Z" fill="#fff"/><rect x="459.59999999999997" y="9.600000000000001" width="3" height=".9" fill="#9ab4f0"/>
<rect x="465" y="6.1" width="7.800" height="7.7" fill="#3f9f1c"/><path d="M466.4 12.8V8.5H471.4V12.8H470.4V11.8H467.4V12.8Z" fill="#fff"/><rect x="467.4" y="9.600000000000001" width="3" height=".9" fill="#a8d890"/>
<path d="M495.5 1V13.500 M493 11.500H505.5" stroke="#555" stroke-width="1.100" fill="none"/><path d="M504.6 9.700L507.2 11.500L504.6 13.300Z M493.9 1.900L495.5 -0.600L497.1 1.900Z" fill="#555"/>
<path d="M500.500 2.500V9L505 5.700Z" fill="#c8f0c8" stroke="#1a9a2a" stroke-width="1.100"/>
<path d="M523.5 1V13.500 M521 11.500H533.5" stroke="#555" stroke-width="1.100" fill="none"/><path d="M532.6 9.700L535.2 11.500L532.6 13.300Z M521.9 1.900L523.5 -0.600L525.1 1.900Z" fill="#555"/>
<path d="M529.500 0V10" stroke="#2a6fb8" stroke-width="1.200"/><path d="M535 5.500H531 M533 3.500L531 5.500L533 7.500" stroke="#d8541a" stroke-width="1.100" fill="none"/>
<path d="M554.500 -1V10.300Q554.500 11.300 555.500 11.300H565.400V2.200L562.600 -1Z" fill="#fff" stroke="#7e7e7e" stroke-width=".9"/><path d="M562.500 -1V1.800H565.400" fill="none" stroke="#7e7e7e" stroke-width=".9"/>
<path d="M559.300 1.300Q557.600 1.300 557.600 3V8.700 M556.600 4.600H559.300" stroke="#4a4428" stroke-width="1" fill="none"/>

<path d="M562.5 4.500H565.5V8.500H569.5V11.500H565.5V15.500H562.5V11.500H558.5V8.500H562.5Z" fill="url(#gp)" stroke="#0a8c12" stroke-width="1"/>
<path d="M575.7 5H581.2L578.45 8Z" fill="#000"/>
<defs><linearGradient id="gk" x1="0" y1="0" x2="0" y2="1"><stop offset="0" stop-color="#2a8cf0"/><stop offset="1" stop-color="#0848a8"/></linearGradient></defs>
<circle cx="600.100" cy="5.700" r="6.900" fill="#f6f8fa" stroke="url(#gk)" stroke-width="2.100"/><circle cx="600.100" cy="5.700" r="4.600" fill="none" stroke="#a0a8b4" stroke-width=".9" stroke-dasharray=".8 1.600"/><path d="M599 2.300L600.200 5.400L602.600 5.700" stroke="#222" stroke-width="1.100" fill="none"/>
<path d="M614.8 5H620.3L617.55 8Z" fill="#000"/>
<rect x="631.500" y="-1" width="14.800" height="13.400" fill="#fff" stroke="#3a72c4" stroke-width="1.100"/><rect x="631.500" y="-1" width="14.800" height="2.800" fill="#6aa4e6"/><path d="M631.500 7.300H646.300" stroke="#3a72c4" stroke-width="1.100"/><path d="M633.100 5.200H635.600L637 4.500L639 3.500L640.500 4.500H642.500L644.500 3.500" stroke="#a02810" stroke-width="1.300" fill="none"/><path d="M634.300 10.400L636 9.400L638.500 10.400L640 9.700L642 8.400L644.500 10.400" stroke="#108a20" stroke-width="1.300" fill="none"/>
<path d="M653.6 5H659.1L656.35 8Z" fill="#000"/>
<path d="M683 -1V11L685.800 8.300L688.300 13L689.800 12.200L687.500 7.700L691 7.500Z" fill="#555"/>
<path d="M715.500 0V5 M715.500 8V13.500 M708 6.500H714 M717 6.500H723" stroke="#666" stroke-width="1" fill="none"/><rect x="715" y="6" width="1" height="1" fill="#999"/>
<path d="M749.500 0V13" stroke="#555"/><path d="M772 6.500H784" stroke="#555"/><path d="M799.500 13L812 1" stroke="#555" stroke-width="1.100"/>
<g stroke="#555" stroke-width="1" fill="none"><path d="M826 9L837 -1 M829 13L840 3"/><path d="M828 7.500L831.500 10.500 M830.500 5L834 8 M833 3L836.500 6 M835.500 .5L839 3.500" stroke-width=".8"/></g>
<text x="836.500" y="15" font-family="Liberation Sans, sans-serif" font-size="6.500" font-weight="bold" fill="#444">E</text>
<g stroke="#555" stroke-dasharray="1 1" shape-rendering="crispEdges"><path d="M855 2.500H868 M855 6.500H868 M855 10.500H864"/></g>
<text x="864.800" y="15" font-family="Liberation Sans, sans-serif" font-size="6.500" font-weight="bold" fill="#444">F</text>
<text x="885.600" y="11" font-family="Liberation Sans, sans-serif" font-size="11.500" font-weight="bold" fill="#5a5a5a">A</text>
<rect x="912" y="-.5" width="11.500" height="13" fill="none" stroke="#555" stroke-dasharray="1 1" shape-rendering="crispEdges"/>
<text x="913.400" y="10.700" font-family="Liberation Sans, sans-serif" font-size="11.500" font-weight="bold" fill="#555">T</text>
<path d="M942 -.5L945 2.500L942 5.500L939 2.500Z M949.500 7L953 10L949.500 13L946 10Z" fill="#555"/><path d="M941.500 7.500L944 10L948.500 3.500" stroke="#555" stroke-width="1.200" fill="none"/>
<path d="M959.7 5H965.2L962.45 8Z" fill="#000"/>
<g font-family="Liberation Sans, sans-serif" font-size="9.600" fill="#444">
<text x="986.5" y="10">M1</text>
<text x="1014.5" y="10">M5</text>
<text x="1040.2" y="10">M15</text>
<text x="1068" y="10">M30</text>
<text x="1099.3" y="10">H1</text>
<text x="1126.4" y="10">H4</text>
<text x="1155.3" y="10">D1</text>
<text x="1183" y="10">W1</text>
<text x="1209.6" y="10">MN</text>
</g>
<path d="M1646.500 6.500L1641.500 11.300" stroke="#2a5fd0" stroke-width="2.200" stroke-linecap="round"/><circle cx="1649.600" cy="3.300" r="4" fill="#f4f8ff" stroke="#2a5fd0" stroke-width="1.300"/>
<path d="M1667 9a5.500 4.800 0 1 1 4 4.300L1668.500 14.500L1669 12.500A5 5 0 0 1 1667 9Z" fill="#dcdfe6" stroke="#b4b8c2" stroke-width=".8"/>
<circle cx="1680.300" cy="3.300" r="8.300" fill="#e0301c"/>
<text x="1679.800" y="8.300" font-family="Liberation Serif, serif" font-size="15.500" font-weight="bold" fill="#fff" text-anchor="middle">1</text>
</svg>
<div style="position:absolute;left:0;top:42px;width:210px;height:57px;font-family:'Liberation Sans',sans-serif;color:#fff">
 <div style="position:absolute;left:0;top:0;width:43px;height:24px;background:linear-gradient(#f25252,#e23a3a)"></div>
 <div style="position:absolute;left:158px;top:0;width:52px;height:24px;background:linear-gradient(#f25252,#e23a3a)"></div>
 <div style="position:absolute;left:0;top:24px;width:100px;height:33px;background:linear-gradient(#d83030,#c41a1a 55%,#a80404)"></div>
 <div style="position:absolute;left:102px;top:24px;width:108px;height:33px;background:linear-gradient(#d83030,#c41a1a 55%,#a80404)"></div>
 <div style="position:absolute;left:0;top:24px;width:39px;height:1px;background:#b82020"></div>
 <div style="position:absolute;left:162px;top:24px;width:44px;height:1px;background:#b82020"></div>
 <div style="position:absolute;left:2.6px;top:6px;font-size:12px;letter-spacing:-0.7px;line-height:14px">SELL</div>
 <div style="position:absolute;left:171px;top:6px;font-size:12px;letter-spacing:0px;line-height:14px">BUY</div>
 <div style="position:absolute;left:7.4px;top:41.5px;font-size:12px;font-weight:bold;line-height:14px;letter-spacing:0.7px">26483</div>
 <div style="position:absolute;left:43.2px;top:21.6px;font-size:34.5px;line-height:38px;letter-spacing:-0.6px">.5</div>
 <div style="position:absolute;left:116.8px;top:41.5px;font-size:12px;font-weight:bold;line-height:14px;letter-spacing:0.7px">26506</div>
 <div style="position:absolute;left:154.2px;top:21.6px;font-size:34.5px;line-height:38px;letter-spacing:-0.6px">.5</div>
 <div style="position:absolute;left:45px;top:0;width:109px;height:20px;border:1px solid #a9a9a9;background:#fff;box-sizing:content-box">
   <div style="position:absolute;left:0;top:0;width:20px;height:20px;background:linear-gradient(#f4f4f4,#dcdcdc);border-right:1px solid #b4b4b4"></div>
   <div style="position:absolute;right:0;top:0;width:20px;height:20px;background:linear-gradient(#f4f4f4,#dcdcdc);border-left:1px solid #b4b4b4"></div>
   <div style="position:absolute;left:7px;top:8px;width:0;height:0;border-left:3px solid transparent;border-right:3px solid transparent;border-top:3px solid #4a62c8"></div>
   <div style="position:absolute;right:7px;top:8px;width:0;height:0;border-left:3px solid transparent;border-right:3px solid transparent;border-bottom:3px solid #4a62c8"></div>
   <div style="position:absolute;right:23.3px;top:3.4px;font-size:13px;line-height:14px;color:#000">1.00</div>
 </div>
</div>

</body></html>
